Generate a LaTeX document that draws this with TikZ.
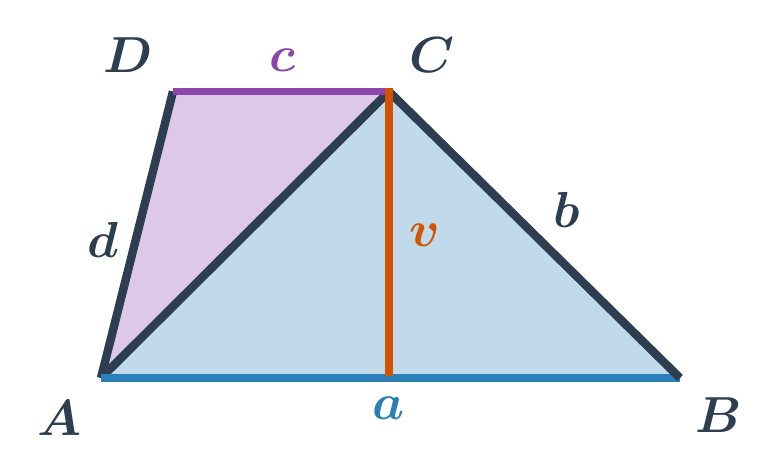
\RequirePackage{fix-cm}
\documentclass[tikz,border=0pt]{standalone}
\usepackage{amsmath}
\definecolor{dark}{HTML}{2C3E50}
\definecolor{bl}{HTML}{2980B9}
\definecolor{pu}{HTML}{8E44AD}
\definecolor{orng}{HTML}{D35400}
\definecolor{blfill}{HTML}{C0DAEC}
\definecolor{pufill}{HTML}{DEC8E8}
\begin{document}
\begin{tikzpicture}[x=0.75pt,y=-0.75pt,
  edge/.style={line width=6.3pt,line cap=butt},
  lbl/.style={font=\fontsize{38}{40}\selectfont\boldmath,inner sep=0pt}]
\useasboundingbox (0,0) rectangle (780,470);
\coordinate (A) at (101,378);
\coordinate (B) at (680,378);
\coordinate (C) at (389,91.5);
\coordinate (D) at (173,91.5);
\coordinate (H) at (389,376);
\coordinate (Ct) at (389,88);
\fill[pufill] (A) -- (D) -- (C) -- cycle;
\fill[blfill] (A) -- (C) -- (B) -- cycle;
\draw[edge,dark] (A) -- (D);
\draw[edge,dark] (A) -- (C);
\draw[edge,bl,line width=5.4pt] (A) -- (B);
\draw[edge,dark] (C) -- (B);
\draw[edge,pu,line width=5.4pt] (D) -- (C);
\draw[line width=6pt,orng] (Ct) -- (H);
\node[lbl,dark] (lD) at (128,55) {$D$};
\node[lbl,dark] (lC) at (432,55) {$C$};
\node[lbl,pu] (lc) at (283,60) {$c$};
\node[lbl,dark] (ld) at (103,240) {$d$};
\node[lbl,dark] (lb) at (567,210) {$b$};
\node[lbl,orng] (lv) at (425,235) {$v$};
\node[lbl,dark] (lA) at (60,418) {$A$};
\node[lbl,dark] (lB) at (719,415) {$B$};
\node[lbl,bl] (la) at (389,408) {$a$};
\end{tikzpicture}
\end{document}
